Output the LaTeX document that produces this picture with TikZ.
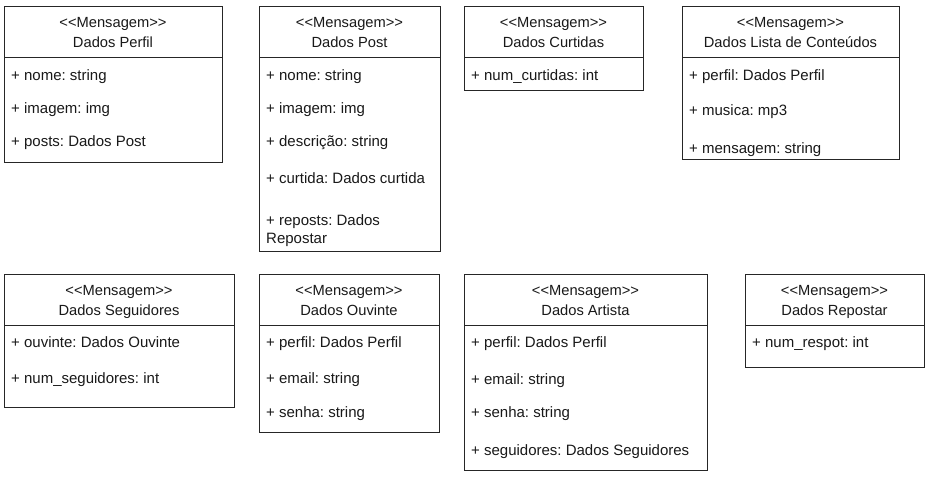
\documentclass[tikz,border=0pt]{standalone}
\usepackage{fontspec}
\setmainfont{Liberation Sans}
\newcommand\ltlt{<\kern0pt<}
\newcommand\gtgt{>\kern0pt>}
\newcommand\msg{\ltlt Mensagem\gtgt}
\frenchspacing
\begin{document}
\frenchspacing
\begin{tikzpicture}[x=1pt,y=-1pt,
  cls/.style={draw=black!85, line width=1pt, anchor=north west, inner sep=0pt, fill=white},
  divl/.style={draw=black!85, line width=1pt},
  hd/.style={inner sep=0pt, anchor=base, text=black!90, font=\fontsize{14.7}{18}\selectfont},
  attr/.style={inner sep=0pt, anchor=base west, text=black!90, font=\fontsize{15}{18}\selectfont}]
\useasboundingbox[fill=white] (0,0) rectangle (934,477);

% Dados Perfil
\node[cls, minimum width=218pt, minimum height=156pt] (perfil) at (4,6) {};
\draw[divl] (perfil.west |- 0,57) -- (perfil.east |- 0,57);
\node[hd] (perfilh1) at (113,27) {\msg};
\node[hd] (perfilh2) at (113,47) {Dados Perfil};
\node[attr] (perfila1) at (11,80) {+ nome: string};
\node[attr] (perfila2) at (11,113) {+ imagem: img};
\node[attr] (perfila3) at (11,146) {+ posts: Dados Post};

% Dados Post
\node[cls, minimum width=181pt, minimum height=245pt] (post) at (259,6) {};
\draw[divl] (post.west |- 0,57) -- (post.east |- 0,57);
\node[hd] (posth1) at (349.5,27) {\msg};
\node[hd] (posth2) at (349.5,47) {Dados Post};
\node[attr] (posta1) at (266,80) {+ nome: string};
\node[attr] (posta2) at (266,113) {+ imagem: img};
\node[attr] (posta3) at (266,146) {+ descrição: string};
\node[attr] (posta4) at (266,183) {+ curtida: Dados curtida};
\node[attr] (posta5) at (266,225) {+ reposts: Dados};
\node[attr] (posta6) at (266,243) {Repostar};

% Dados Curtidas
\node[cls, minimum width=179pt, minimum height=84pt] (curt) at (464,6) {};
\draw[divl] (curt.west |- 0,57) -- (curt.east |- 0,57);
\node[hd] (curth1) at (553.5,27) {\msg};
\node[hd] (curth2) at (553.5,47) {Dados Curtidas};
\node[attr] (curta1) at (471,80) {+ num\_curtidas: int};

% Dados Lista de Conteudos
\node[cls, minimum width=217pt, minimum height=153pt] (lista) at (682,6) {};
\draw[divl] (lista.west |- 0,57) -- (lista.east |- 0,57);
\node[hd] (listah1) at (790.5,27) {\msg};
\node[hd] (listah2) at (790.5,47) {Dados Lista de Conteúdos};
\node[attr] (listaa1) at (689,80) {+ perfil: Dados Perfil};
\node[attr] (listaa2) at (689,115) {+ musica: mp3};
\node[attr] (listaa3) at (689,153) {+ mensagem: string};

% Dados Seguidores
\node[cls, minimum width=230pt, minimum height=133pt] (seg) at (4,274) {};
\draw[divl] (seg.west |- 0,325) -- (seg.east |- 0,325);
\node[hd] (segh1) at (119,295) {\msg};
\node[hd] (segh2) at (119,315) {Dados Seguidores};
\node[attr] (sega1) at (11,347) {+ ouvinte: Dados Ouvinte};
\node[attr] (sega2) at (11,383) {+ num\_seguidores: int};

% Dados Ouvinte
\node[cls, minimum width=180pt, minimum height=158pt] (ouv) at (259,274) {};
\draw[divl] (ouv.west |- 0,325) -- (ouv.east |- 0,325);
\node[hd] (ouvh1) at (349,295) {\msg};
\node[hd] (ouvh2) at (349,315) {Dados Ouvinte};
\node[attr] (ouva1) at (266,347) {+ perfil: Dados Perfil};
\node[attr] (ouva2) at (266,383) {+ email: string};
\node[attr] (ouva3) at (266,417) {+ senha: string};

% Dados Artista
\node[cls, minimum width=243pt, minimum height=196pt] (art) at (464,274) {};
\draw[divl] (art.west |- 0,325) -- (art.east |- 0,325);
\node[hd] (arth1) at (585.5,295) {\msg};
\node[hd] (arth2) at (585.5,315) {Dados Artista};
\node[attr] (arta1) at (471,347) {+ perfil: Dados Perfil};
\node[attr] (arta2) at (471,384) {+ email: string};
\node[attr] (arta3) at (471,417) {+ senha: string};
\node[attr] (arta4) at (471,455) {+ seguidores: Dados Seguidores};

% Dados Repostar
\node[cls, minimum width=179pt, minimum height=93pt] (rep) at (745,274) {};
\draw[divl] (rep.west |- 0,325) -- (rep.east |- 0,325);
\node[hd] (reph1) at (834.5,295) {\msg};
\node[hd] (reph2) at (834.5,315) {Dados Repostar};
\node[attr] (repa1) at (752,347) {+ num\_respot: int};
\end{tikzpicture}
\end{document}
